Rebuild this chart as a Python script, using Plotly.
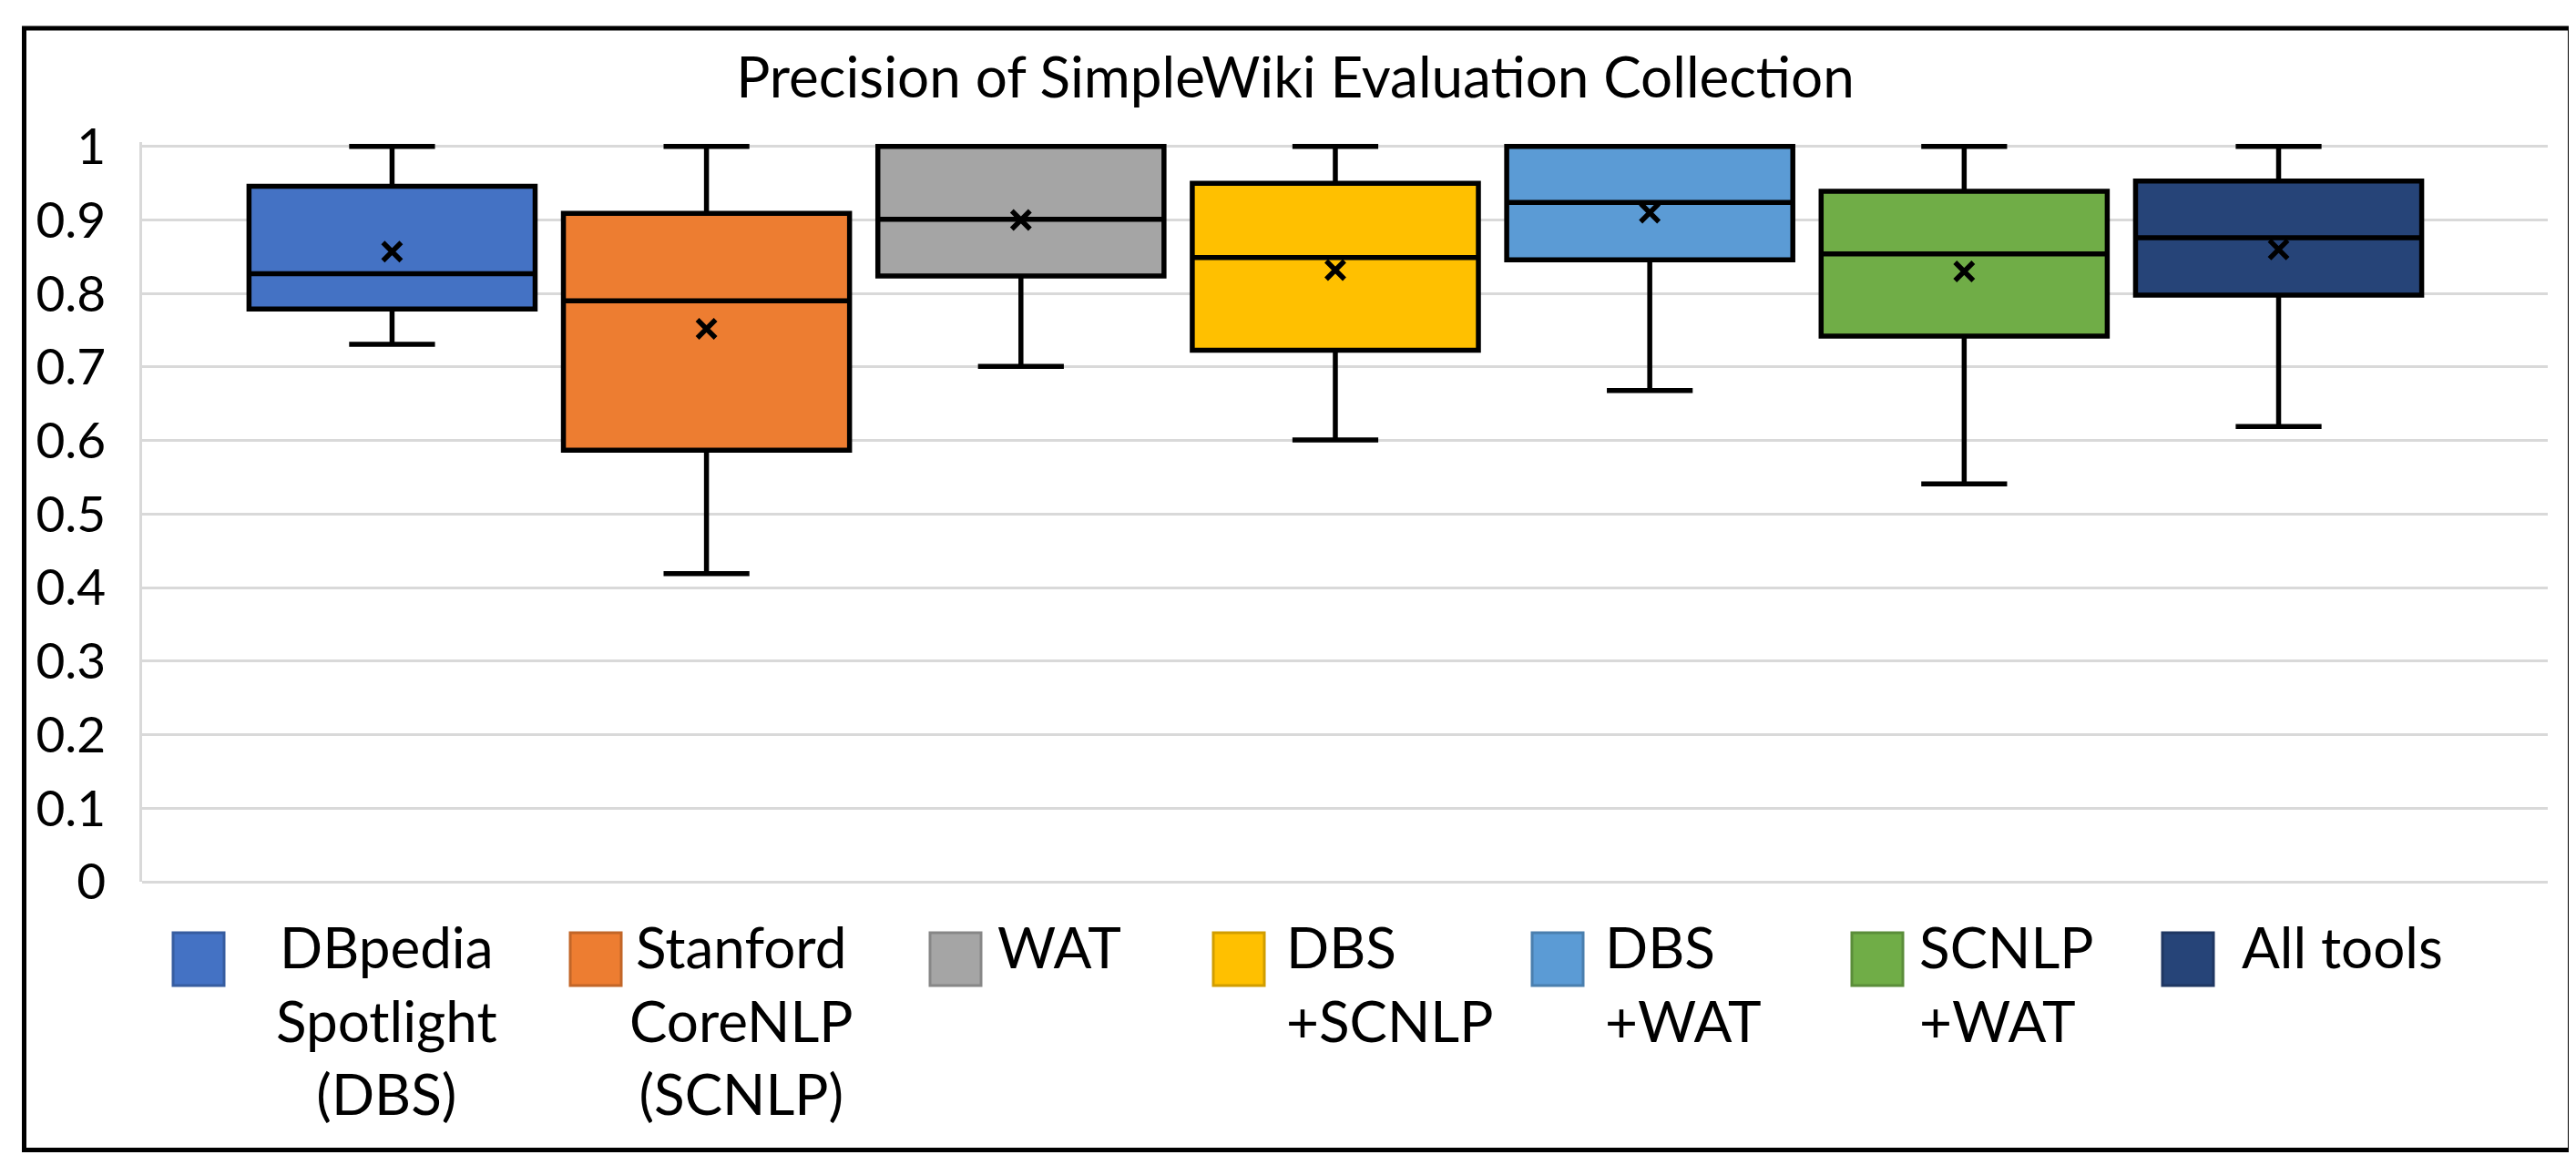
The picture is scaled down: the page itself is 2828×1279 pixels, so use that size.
import plotly.graph_objects as go

# ---------------- data ----------------
series_names = ["DBpedia Spotlight (DBS)", "Stanford CoreNLP (SCNLP)", "WAT",
                "DBS+SCNLP", "DBS+WAT", "SCNLP+WAT", "All tools"]
legend_labels = ["DBpedia<br>Spotlight<br>(DBS)", "Stanford<br>CoreNLP<br>(SCNLP)", "WAT",
                 "DBS<br>+SCNLP", "DBS<br>+WAT", "SCNLP<br>+WAT", "All tools"]
upper_whisker = [1.00, 1.00, 1.00, 1.00, 1.00, 1.00, 1.00]
q3_values = [0.946, 0.909, 1.000, 0.950, 1.000, 0.939, 0.953]
median_values = [0.827, 0.790, 0.901, 0.849, 0.924, 0.854, 0.876]
q1_values = [0.779, 0.587, 0.824, 0.723, 0.846, 0.742, 0.798]
lower_whisker = [0.731, 0.419, 0.701, 0.601, 0.668, 0.541, 0.619]
mean_values = [0.857, 0.752, 0.900, 0.832, 0.910, 0.830, 0.860]
y_ticks = [0, 0.1, 0.2, 0.3, 0.4, 0.5, 0.6, 0.7, 0.8, 0.9, 1]
title_text = "Precision of SimpleWiki Evaluation Collection"

# ---------------- styles ----------------
colors = ["#4472C4", "#ED7D31", "#A5A5A5", "#FFC000", "#5B9BD5", "#70AD47", "#264478"]
FONT = "Lato, 'Open Sans', sans-serif"
W, H = 2828, 1279
M_L, M_R, M_T, M_B = 148, 39, 148, 319

def darker(hex_color, f=0.82):
    h = hex_color.lstrip("#")
    r, g, b = (int(h[i:i + 2], 16) for i in (0, 2, 4))
    return "rgb(%d,%d,%d)" % (r * f, g * f, b * f)

def px_x(px):
    return (px - M_L) / (W - M_L - M_R)

def px_y(py):
    return (H - M_B - py) / (H - M_T - M_B)

fig = go.Figure()
for i, name in enumerate(series_names):
    fig.add_trace(go.Box(
        name=name,
        x=[name],
        q1=[q1_values[i]], median=[median_values[i]], q3=[q3_values[i]],
        lowerfence=[lower_whisker[i]], upperfence=[upper_whisker[i]],
        fillcolor=colors[i],
        line=dict(color="black", width=5.5),
        whiskerwidth=0.3,
        width=0.91,
        boxpoints=False,
        showlegend=False,
        hoverinfo="skip",
    ))

fig.add_trace(go.Scatter(
    x=series_names, y=mean_values, mode="markers",
    marker=dict(symbol="x-thin", size=20, color="black",
                line=dict(color="black", width=5.5)),
    showlegend=False, hoverinfo="skip", cliponaxis=False,
))

# ---------------- custom legend (Excel style) ----------------
leg_square_left = [182, 618, 1013, 1324, 1674, 2025, 2366]
leg_text_left = [293, 681, 1085, 1402, 1752, 2097, 2451]
leg_align = ["center", "center", "left", "left", "left", "left", "left"]
shapes = []
annotations = []
for i, lab in enumerate(legend_labels):
    x0 = leg_square_left[i]
    shapes.append(dict(type="rect", xref="paper", yref="paper",
                       x0=px_x(x0), x1=px_x(x0 + 56),
                       y0=px_y(1016), y1=px_y(1074),
                       fillcolor=colors[i],
                       line=dict(color=darker(colors[i]), width=3)))
    annotations.append(dict(xref="paper", yref="paper",
                            x=px_x(leg_text_left[i]), y=px_y(992),
                            xanchor="left", yanchor="top", align=leg_align[i],
                            text=lab, showarrow=False,
                            font=dict(family=FONT, size=62, color="black")))

# outer frame
shapes.append(dict(type="rect", xref="paper", yref="paper",
                   x0=px_x(18.5), x1=px_x(2813.5), y0=px_y(1254.5), y1=px_y(23),
                   line=dict(color="black", width=5), fillcolor="rgba(0,0,0,0)",
                   layer="above"))

fig.update_layout(
    width=W, height=H,
    margin=dict(l=M_L, r=M_R, t=M_T, b=M_B, pad=0),
    paper_bgcolor="white", plot_bgcolor="white",
    title=dict(text=title_text, x=0.5, xanchor="center", y=1 - 77 / H,
               yanchor="middle", xref="container",
               font=dict(family=FONT, size=62, color="black")),
    xaxis=dict(type="category", range=[-0.795, 6.856], showticklabels=False,
               showgrid=False, zeroline=False, showline=False, ticks=""),
    yaxis=dict(range=[0, 1.006], tickvals=y_ticks, ticktext=[str(v) for v in y_ticks],
               showgrid=True, gridcolor="#d9d9d9", gridwidth=2.5,
               zeroline=True, zerolinecolor="#d9d9d9", zerolinewidth=2.5,
               showline=True, linecolor="#d9d9d9", linewidth=2.5,
               ticks="", ticklabelstandoff=26,
               tickfont=dict(family=FONT, size=55, color="black")),
    shapes=shapes,
    annotations=annotations,
    showlegend=False,
)

fig.write_html("out.html")
